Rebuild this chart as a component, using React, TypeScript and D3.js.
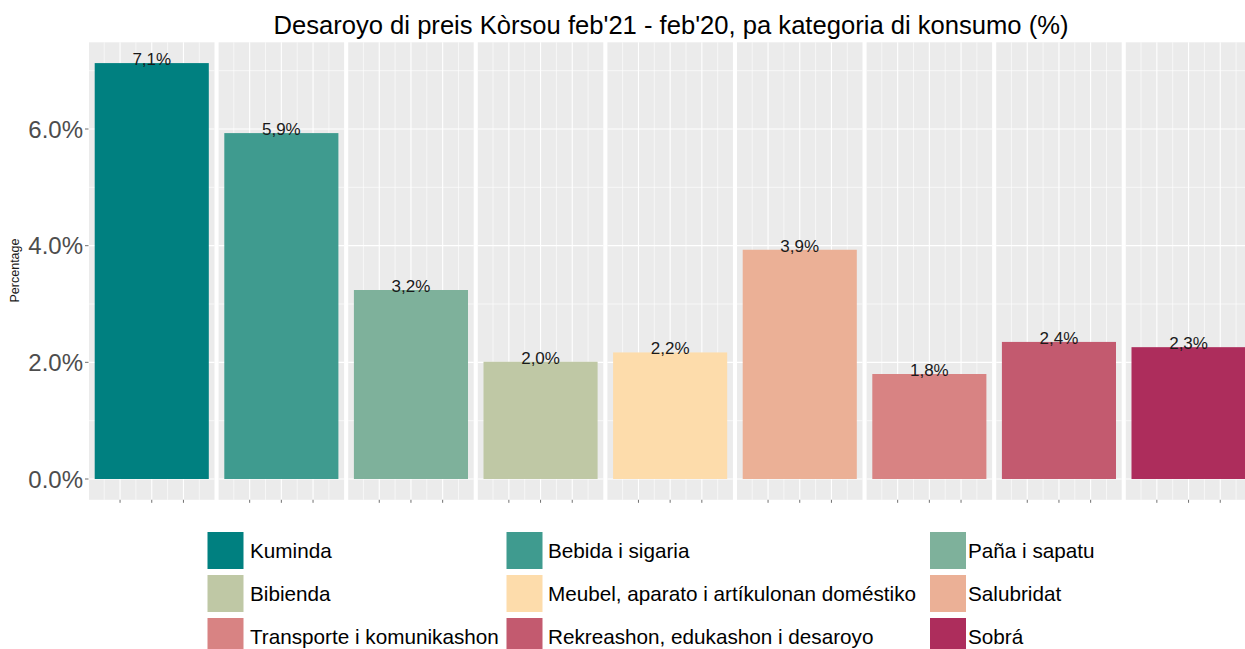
import React from "react";
import * as d3 from "d3";

const categories = [
  "Kuminda",
  "Bebida i sigaria",
  "Paña i sapatu",
  "Bibienda",
  "Meubel, aparato i artíkulonan doméstiko",
  "Salubridat",
  "Transporte i komunikashon",
  "Rekreashon, edukashon i desaroyo",
  "Sobrá",
];
const values = [7.13, 5.93, 3.24, 2.01, 2.17, 3.93, 1.8, 2.35, 2.26];
const valueLabels = ["7,1%", "5,9%", "3,2%", "2,0%", "2,2%", "3,9%", "1,8%", "2,4%", "2,3%"];
const colors = [
  "#008080",
  "#3f9b8f",
  "#7eb19b",
  "#bfc8a5",
  "#fddcab",
  "#ebb096",
  "#d88383",
  "#c35a6f",
  "#ad2d5c",
];
const yTicks = [0, 2, 4, 6];
const yMinor = [1, 3, 5, 7];
const xMajor = [-0.25, 0, 0.25];
const xMinor = [-0.375, -0.125, 0.125, 0.375];
const title = "Desaroyo di preis Kòrsou feb'21 - feb'20, pa kategoria di konsumo (%)";

const W = 1245;
const H = 649;
const FONT = "Liberation Sans, Arial, sans-serif";

export default function App() {
  const maxV = d3.max(values) as number;
  const expand = maxV * 0.05;
  const y = d3.scaleLinear().domain([-expand, maxV + expand]).range([499.8, 42.3]);

  const panel = d3
    .scaleBand<string>()
    .domain(categories)
    .range([89, 1251.3])
    .paddingInner(0.0316)
    .paddingOuter(0);
  const bw = panel.bandwidth();
  const x = d3.scaleLinear().domain([-0.495, 0.495]).range([0, bw]);

  const [yTop, yBot] = [y.range()[1], y.range()[0]];

  const legendCols = [
    { key: 207.5, text: 250 },
    { key: 506.5, text: 548 },
    { key: 930, text: 968 },
  ];
  const legendRows = [532, 575, 618];

  return (
    <svg
      width={W}
      height={H}
      style={{ position: "absolute", left: 0, top: 0, background: "#fff" }}
      fontFamily={FONT}
    >
      <rect x={0} y={0} width={W} height={H} fill="#fff" />
      <text x={671} y={33.8} textAnchor="middle" fontSize={25.6} fill="#000">
        {title}
      </text>

      {/* y axis title */}
      <text
        transform={`translate(18.5, 270.5) rotate(-90)`}
        textAnchor="middle"
        fontSize={12.5}
        fill="#1a1a1a"
      >
        Percentage
      </text>

      {/* y axis ticks and labels */}
      {yTicks.map((t) => (
        <g key={"yt" + t}>
          <line x1={85} x2={88.5} y1={y(t)} y2={y(t)} stroke="#4d4d4d" strokeWidth={0.8} />
          <text
            x={83}
            y={y(t)}
            dy="0.36em"
            textAnchor="end"
            fontSize={24}
            fill="#4d4d4d"
          >
            {t.toFixed(1) + "%"}
          </text>
        </g>
      ))}

      {categories.map((c, i) => {
        const px = panel(c) as number;
        const v = values[i];
        return (
          <g key={c} transform={`translate(${px},0)`}>
            <rect x={0} y={yTop} width={bw} height={yBot - yTop} fill="#ebebeb" />
            {yMinor.map((t) => (
              <line key={"ym" + t} x1={0} x2={bw} y1={y(t)} y2={y(t)} stroke="#fff" strokeWidth={0.6} />
            ))}
            {yTicks.map((t) => (
              <line key={"yM" + t} x1={0} x2={bw} y1={y(t)} y2={y(t)} stroke="#fff" strokeWidth={1.2} />
            ))}
            {xMinor.map((t) => (
              <line key={"xm" + t} x1={x(t)} x2={x(t)} y1={yTop} y2={yBot} stroke="#fff" strokeWidth={0.6} />
            ))}
            {xMajor.map((t) => (
              <line key={"xM" + t} x1={x(t)} x2={x(t)} y1={yTop} y2={yBot} stroke="#fff" strokeWidth={1.1} />
            ))}
            <rect
              x={x(-0.45)}
              y={y(v)}
              width={x(0.45) - x(-0.45)}
              height={y(0) - y(v)}
              fill={colors[i]}
            />
            <text
              x={x(0)}
              y={y(v) + 2}
              textAnchor="middle"
              fontSize={17}
              fill="#1a1a1a"
            >
              {valueLabels[i]}
            </text>
            {xMajor.map((t) => (
              <line
                key={"xt" + t}
                x1={x(t)}
                x2={x(t)}
                y1={yBot}
                y2={yBot + 3}
                stroke="#4d4d4d"
                strokeWidth={0.8}
              />
            ))}
          </g>
        );
      })}

      {/* legend */}
      {categories.map((c, i) => {
        const col = legendCols[i % 3];
        const rowY = legendRows[Math.floor(i / 3)];
        return (
          <g key={"lg" + c}>
            <rect x={col.key} y={rowY} width={36} height={37} fill={colors[i]} />
            <text x={col.text} y={rowY + 18.5} dy="0.36em" fontSize={20.7} fill="#000">
              {c}
            </text>
          </g>
        );
      })}
    </svg>
  );
}
